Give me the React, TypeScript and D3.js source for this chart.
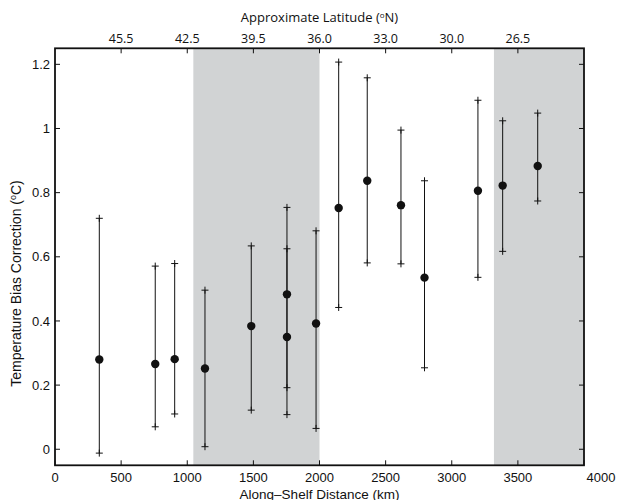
import React from "react";
import * as d3 from "d3";

// Along-shelf distance (km) of each estimate
const distance = [335, 758, 905, 1134, 1484, 1754, 1754, 1974, 2145, 2361, 2616, 2794, 3198, 3385, 3650];
// Temperature bias correction (°C)
const bias = [0.280, 0.266, 0.281, 0.252, 0.384, 0.483, 0.350, 0.392, 0.752, 0.837, 0.761, 0.535, 0.806, 0.822, 0.883];
const upper = [0.720, 0.571, 0.579, 0.496, 0.634, 0.754, 0.625, 0.681, 1.207, 1.158, 0.995, 0.837, 1.088, 1.024, 1.048];
const lower = [-0.012, 0.070, 0.110, 0.008, 0.122, 0.192, 0.108, 0.065, 0.442, 0.581, 0.578, 0.254, 0.536, 0.617, 0.774];

// Shaded along-shelf ranges (km)
const bandStart = [1046, 3319];
const bandEnd = [2000, 4000];

const xTicks = [0, 500, 1000, 1500, 2000, 2500, 3000, 3500, 4000];
const yTicks = [0, 0.2, 0.4, 0.6, 0.8, 1, 1.2];
const latTickKm = [500, 1000, 1500, 2000, 2500, 3000, 3500];
const latLabels = ["45.5", "42.5", "39.5", "36.0", "33.0", "30.0", "26.5"];

const W = 618;
const H = 500;
const L = 55, R = 584, T = 48.3, B = 465.3;

export default function App() {
  const x = d3.scaleLinear().domain([0, 4000]).range([L, R]);
  const y = d3.scaleLinear().domain([-0.05, 1.25]).range([B, T]);
  const armFont = "'Liberation Sans', Arial, Helvetica, sans-serif";
  const latFont = "'Open Sans', 'Noto Sans', sans-serif";
  const cap = 3.5;
  const tickLen = 5;

  return (
    <svg width={W} height={H} style={{ position: "absolute", left: 0, top: 0, background: "#fff" }}>
      <rect x={0} y={0} width={W} height={H} fill="#fff" />
      {/* shaded bands */}
      {bandStart.map((s, i) => (
        <rect key={"b" + i} x={x(s)} y={T} width={x(bandEnd[i]) - x(s)} height={B - T} fill="#d1d3d4" />
      ))}

      {/* error bars */}
      {distance.map((d, i) => {
        const cx = x(d);
        return (
          <g key={"e" + i} stroke="#111" strokeWidth={1}>
            <line x1={cx} x2={cx} y1={y(lower[i])} y2={y(upper[i])} />
            <line x1={cx - cap} x2={cx + cap} y1={y(upper[i])} y2={y(upper[i])} />
            <line x1={cx} x2={cx} y1={y(upper[i]) - cap} y2={y(upper[i]) + cap} />
            <line x1={cx - cap} x2={cx + cap} y1={y(lower[i])} y2={y(lower[i])} />
            <line x1={cx} x2={cx} y1={y(lower[i]) - cap} y2={y(lower[i]) + cap} />
          </g>
        );
      })}
      {distance.map((d, i) => (
        <circle key={"c" + i} cx={x(d)} cy={y(bias[i])} r={4.2} fill="#111" />
      ))}

      {/* ticks */}
      <g stroke="#111" strokeWidth={1}>
        {xTicks.map((t) => (
          <line key={"xb" + t} x1={x(t)} x2={x(t)} y1={B} y2={B - tickLen} />
        ))}
        {latTickKm.map((t) => (
          <line key={"xt" + t} x1={x(t)} x2={x(t)} y1={T} y2={T + tickLen} />
        ))}
        {yTicks.map((t) => (
          <g key={"y" + t}>
            <line x1={L} x2={L + tickLen} y1={y(t)} y2={y(t)} />
            <line x1={R} x2={R - tickLen} y1={y(t)} y2={y(t)} />
          </g>
        ))}
      </g>

      {/* frame */}
      <rect x={L} y={T} width={R - L} height={B - T} fill="none" stroke="#111" strokeWidth={1.8} />

      {/* bottom tick labels */}
      {xTicks.map((t, i) => (
        <text key={"xl" + t} x={x(t) + (i === xTicks.length - 1 ? 17 : 0)} y={482} textAnchor="middle"
          fontFamily={armFont} fontSize={13} fill="#111">{t}</text>
      ))}
      {/* left tick labels */}
      {yTicks.map((t) => (
        <text key={"yl" + t} x={L - 5} y={y(t) + 4.6} textAnchor="end"
          fontFamily={armFont} fontSize={13} fill="#111">{d3.format("~g")(t)}</text>
      ))}
      {/* top latitude labels */}
      {latTickKm.map((t, i) => (
        <text key={"ll" + t} x={x(t)} y={43.3} textAnchor="middle"
          fontFamily={latFont} fontSize={12.5} fill="#111">{latLabels[i]}</text>
      ))}
      <text x={(L + R) / 2} y={22} textAnchor="middle" fontFamily={latFont} fontSize={13} fill="#111">
        Approximate Latitude (<tspan fontSize={8} dy={-4}>o</tspan><tspan dy={4}>N)</tspan>
      </text>

      {/* axis titles */}
      <text x={(L + R) / 2} y={498.5} textAnchor="middle" fontFamily={armFont} fontSize={13.5} fill="#111">
        Along–Shelf Distance (km)
      </text>
      <text transform={`translate(21,283.5) rotate(-90)`} textAnchor="middle" fontFamily={armFont}
        fontSize={14} fill="#111">
        Temperature Bias Correction (<tspan fontSize={9} dy={-5}>o</tspan><tspan dy={5}>C)</tspan>
      </text>
    </svg>
  );
}
